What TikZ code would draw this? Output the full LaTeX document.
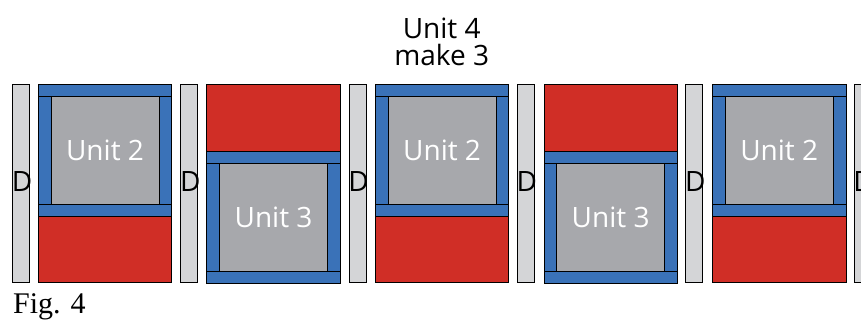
\documentclass[tikz,border=0pt]{standalone}
\usepackage{fontspec}
\setmainfont{Liberation Serif}
\newfontfamily\labfont{Open Sans}
\definecolor{bandblue}{RGB}{58,114,184}
\definecolor{fillred}{RGB}{208,46,38}
\definecolor{unitgray}{RGB}{167,168,172}
\definecolor{barlight}{RGB}{212,213,215}
\begin{document}
\begin{tikzpicture}[x=1pt,y=-1pt,
  outl/.style={draw=black,line width=0.8pt},
  band/.style={outl,fill=bandblue},
  redpart/.style={outl,fill=fillred},
  core/.style={outl,fill=unitgray,inner sep=0pt,minimum width=108pt,minimum height=107.3pt,
    font=\labfont\fontsize{28}{32}\selectfont,text=white},
  dbar/.style={outl,fill=barlight,inner sep=0pt,minimum width=17pt,minimum height=198.7pt},
  dtext/.style={font=\labfont\fontsize{28}{32}\selectfont,inner sep=0pt,anchor=west},
  title/.style={font=\labfont\fontsize{28}{32}\selectfont,inner sep=0pt,anchor=base},
  caption/.style={font=\fontsize{30}{34}\selectfont,inner sep=0pt,anchor=base west}]
\useasboundingbox (0,0) rectangle (861,320);
\clip (0,0) rectangle (861,320);
% D bars
\foreach \i in {0,...,5}{
  \pgfmathsetmacro\dx{12.5+168.3*\i+8.5}
  \node[dbar] (d\i) at (\dx,183.35) {};
  \node[dtext] (dl\i) at ([xshift=-0.5pt,yshift=2pt]d\i.west) {D};
}
% unit blocks
\foreach \i in {0,...,4}{
  \pgfmathsetmacro\xa{38.3+168.55*\i}
  \pgfmathsetmacro\xb{\xa+133.4}
  \pgfmathtruncatemacro\odd{mod(\i,2)}
  \ifnum\odd=0
    \def\ft{84}\def\rt{216.7}\def\rb{282.7}\def\lbl{Unit 2}
  \else
    \def\ft{151}\def\rt{84}\def\rb{151}\def\lbl{Unit 3}
  \fi
  \pgfmathsetmacro\fa{\ft+12.7}
  \pgfmathsetmacro\fb{\ft+120}
  \pgfmathsetmacro\fc{\ft+132.7}
  \draw[redpart] (\xa,\rt) rectangle (\xb,\rb);
  \draw[band] (\xa,\ft) rectangle (\xb,\fa);
  \draw[band] (\xa,\fb) rectangle (\xb,\fc);
  \draw[band] (\xa,\fa) rectangle (\xa+12.7,\fb);
  \draw[band] (\xb-12.7,\fa) rectangle (\xb,\fb);
  \node[core] (u\i) at ({(\xa+\xb)/2},{(\fa+\fb)/2}) {\raisebox{-2pt}{\lbl}};
}
% title and caption
\node[title] (t1) at (441.7,38.3) {Unit 4};
\node[title] (t2) at (441.7,66) {make 3};
\node[caption] (fig) at (13,313.3) {Fig. 4};
\end{tikzpicture}
\end{document}
